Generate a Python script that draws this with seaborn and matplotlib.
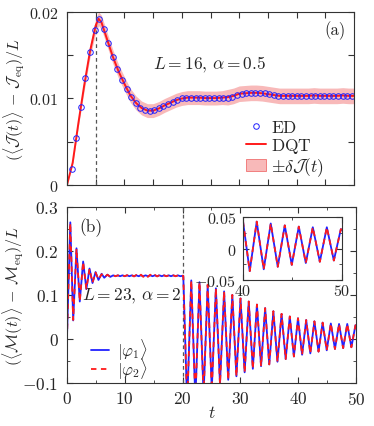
import seaborn as sns
import matplotlib.pyplot as plt
from matplotlib.lines import Line2D
from matplotlib.patches import Patch

# panel (a): DQT curve, its error band and the ED points
dqt_t = [0, 1, 2, 3, 4, 5, 5.5, 6, 7, 8, 9, 10, 11, 12, 13, 14, 15, 16, 17, 18, 19, 20,
         21, 22, 23, 24, 25, 26, 27, 28, 29, 30, 31, 32, 33, 34, 35, 36, 37, 38, 39, 40,
         41, 42, 43, 44, 45, 46, 47, 48, 49, 50]
dqt_val = [0.0, 0.0026, 0.0072, 0.0115, 0.0154, 0.0184, 0.0192, 0.0188, 0.0168, 0.0148,
           0.0131, 0.0117, 0.0104, 0.0095, 0.0089, 0.0086, 0.0086, 0.00885, 0.0092, 0.0095,
           0.0098, 0.0100, 0.0101, 0.0101, 0.0101, 0.01005, 0.01005, 0.01005, 0.0101, 0.01015,
           0.0103, 0.01055, 0.0106, 0.01065, 0.01065, 0.0106, 0.0105, 0.0104, 0.0103, 0.0103,
           0.0103, 0.0103, 0.0103, 0.0103, 0.01035, 0.0103, 0.0103, 0.0103, 0.0103, 0.01035,
           0.0103, 0.0103]
dqt_err = [0.0, 0.0002, 0.0004, 0.0006, 0.0007, 0.0008, 0.0008, 0.0008, 0.0008, 0.0008,
           0.0008, 0.0008, 0.0008, 0.0008, 0.0008, 0.0008, 0.0008, 0.0008, 0.0008, 0.0008,
           0.0008, 0.0008, 0.0008, 0.0008, 0.0008, 0.0008, 0.0008, 0.0008, 0.0008, 0.0009,
           0.0009, 0.0009, 0.0009, 0.0009, 0.0009, 0.0009, 0.0009, 0.0009, 0.0009, 0.0009,
           0.0009, 0.0009, 0.0009, 0.0009, 0.0009, 0.0009, 0.0009, 0.0009, 0.0009, 0.0009,
           0.0009, 0.0009]

ed_t = [0.8, 1.6, 2.4, 3.2, 4.0, 4.8, 5.6, 6.4, 7.2, 8.0, 8.8, 9.6, 10.4, 11.2, 12.0, 12.8,
        13.6, 14.4, 15.2, 16.0, 16.8, 17.6, 18.4, 19.2, 20.0, 20.8, 21.6, 22.4, 23.2, 24.0,
        24.8, 25.6, 26.4, 27.2, 28.0, 28.8, 29.6, 30.4, 31.2, 32.0, 32.8, 33.6, 34.4, 35.2,
        36.0, 36.8, 37.6, 38.4, 39.2, 40.0, 40.8, 41.6, 42.4, 43.2, 44.0, 44.8, 45.6, 46.4,
        47.2, 48.0, 48.8, 49.6]
ed_val = [0.00185, 0.00546, 0.00904, 0.01238, 0.01538, 0.01792, 0.01915, 0.01807, 0.01638,
          0.01481, 0.01342, 0.01219, 0.01115, 0.01015, 0.00946, 0.00896, 0.00869, 0.00858,
          0.00862, 0.00885, 0.00915, 0.00942, 0.00965, 0.00988, 0.01003, 0.01007, 0.0101,
          0.0101, 0.0101, 0.0100, 0.0100, 0.0100, 0.0100, 0.0101, 0.0101, 0.0102, 0.0104,
          0.0105, 0.0106, 0.0106, 0.01065, 0.0106, 0.0106, 0.0105, 0.0104, 0.0103, 0.0103,
          0.0103, 0.0103, 0.0103, 0.0103, 0.0103, 0.0103, 0.0103, 0.0103, 0.0103, 0.0103,
          0.0103, 0.0103, 0.0103, 0.0103, 0.0103]

# panel (b): magnetisation for the two initial states
mag_t = [0.0, 0.58, 1.08, 1.65, 2.22, 2.8, 3.36, 3.9, 4.42, 4.95, 5.45, 6.0, 6.45, 7.0, 7.5,
         8.0, 8.4, 8.8, 9.2, 9.6, 10.0, 10.4, 10.8, 11.2, 11.6, 12.0, 12.4, 12.8, 13.2, 13.6,
         14.0, 14.4, 14.8, 15.2, 15.6, 16.0, 16.4, 16.8, 17.2, 17.6, 18.0, 18.4, 18.8, 19.2,
         19.6, 20.0, 20.12,
         20.79, 21.50, 22.21, 22.92, 23.63, 24.34, 25.05, 25.76, 26.47, 27.18, 27.89, 28.60,
         29.31, 30.02, 30.73, 31.44, 32.15, 32.86, 33.57, 34.28, 34.99, 35.70, 36.41, 37.12,
         37.83, 38.54, 39.25, 39.96, 40.67, 41.38, 42.09, 42.80, 43.51, 44.22, 44.93, 45.64,
         46.35, 47.06, 47.77, 48.48, 49.19, 49.90, 50.0]
mag_phi1 = [0.0, 0.265, 0.042, 0.206, 0.085, 0.176, 0.113, 0.160, 0.127, 0.152, 0.134, 0.148,
            0.139, 0.146, 0.141,
            0.1445, 0.1425, 0.1445, 0.1425, 0.1445, 0.1425, 0.1445, 0.1425, 0.1445, 0.1425,
            0.1445, 0.1425, 0.1445, 0.1425, 0.1445, 0.1425, 0.1445, 0.1425, 0.1445, 0.1425,
            0.1445, 0.1425, 0.1445, 0.1425, 0.1445, 0.1425, 0.1445, 0.1425, 0.1445, 0.1425,
            0.1435, 0.1435,
            -0.150, 0.133, -0.140, 0.129, -0.128, 0.123, -0.115, 0.115, -0.103, 0.108, -0.093,
            0.100, -0.085, 0.092, -0.076, 0.085, -0.068, 0.078, -0.062, 0.070, -0.058, 0.063,
            -0.052, 0.057, -0.046, 0.051, -0.040, 0.047, -0.036, 0.043, -0.033, 0.040, -0.029,
            0.037, -0.026, 0.035, -0.023, 0.034, -0.021, 0.034, -0.019, 0.031, 0.030]
mag_phi2 = [0.0, 0.263, 0.043, 0.205, 0.086, 0.175, 0.114, 0.159, 0.128, 0.151, 0.135, 0.147,
            0.140, 0.146, 0.141,
            0.1445, 0.1425, 0.1445, 0.1425, 0.1445, 0.1425, 0.1450, 0.1420, 0.1450, 0.1420,
            0.1455, 0.1415, 0.1460, 0.1410, 0.1460, 0.1410, 0.1460, 0.1415, 0.1455, 0.1420,
            0.1450, 0.1425, 0.1445, 0.1425, 0.1445, 0.1425, 0.1445, 0.1425, 0.1445, 0.1425,
            0.1435, 0.1435,
            -0.150, 0.133, -0.140, 0.129, -0.128, 0.123, -0.115, 0.115, -0.103, 0.108, -0.093,
            0.100, -0.085, 0.092, -0.076, 0.085, -0.068, 0.078, -0.062, 0.070, -0.058, 0.063,
            -0.052, 0.057, -0.046, 0.051, -0.040, 0.047, -0.036, 0.043, -0.033, 0.040, -0.029,
            0.037, -0.026, 0.035, -0.023, 0.034, -0.021, 0.034, -0.019, 0.031, 0.030]

blue = '#2020ff'
red = '#ff1a1a'
band = '#f8b9b9'

sns.set_style('ticks')
plt.rcParams['font.family'] = 'serif'
plt.rcParams['font.serif'] = ['cmr10', 'DejaVu Serif']
plt.rcParams['mathtext.fontset'] = 'cm'
plt.rcParams['axes.unicode_minus'] = False
plt.rcParams['font.size'] = 11
plt.rcParams['axes.edgecolor'] = '#333333'
plt.rcParams['axes.linewidth'] = 0.8

fig = plt.figure(figsize=(3.74, 4.27), dpi=100)
ax1 = fig.add_axes([0.179, 0.564, 0.768, 0.406])
ax2 = fig.add_axes([0.179, 0.101, 0.773, 0.412])
ax3 = fig.add_axes([0.650, 0.342, 0.264, 0.147])

# ---- (a)
lo = [v - e for v, e in zip(dqt_val, dqt_err)]
hi = [v + e for v, e in zip(dqt_val, dqt_err)]
ax1.fill_between(dqt_t, lo, hi, color=band, lw=0)
ax1.axvline(5, color='#555555', lw=0.9, dashes=(3, 2.5))
sns.lineplot(x=dqt_t, y=dqt_val, ax=ax1, color=red, lw=1.4)
sns.lineplot(x=ed_t, y=ed_val, ax=ax1, marker='o', linestyle='none', markersize=4,
             markerfacecolor='none', markeredgecolor=blue, markeredgewidth=0.7)
ax1.set_xlim(0, 50)
ax1.set_ylim(0, 0.02)
ax1.set_xticks(range(0, 51, 5))
ax1.set_xticklabels([])
ax1.set_yticks([0, 0.005, 0.01, 0.015, 0.02], ['$0$', '', '$0.01$', '', '$0.02$'])
ax1.set_ylabel(r'$(\langle\mathcal{J}(t)\rangle\,-\,\mathcal{J}_{\rm eq})/L$', fontsize=11.5)
ax1.yaxis.set_label_coords(-0.14, 0.5)
ax1.text(0.934, 0.90, '(a)', transform=ax1.transAxes, ha='center', va='center', fontsize=12)
ax1.text(0.497, 0.70, r'$L=16,\,\alpha=0.5$', transform=ax1.transAxes, ha='center',
         va='center', fontsize=12.5)
h1 = [Line2D([], [], marker='o', ls='none', mfc='none', mec=blue, mew=0.7, ms=4),
      Line2D([], [], color=red, lw=1.4),
      Patch(facecolor=band, edgecolor='#f07070', lw=0.6)]
ax1.legend(h1, [r'$\mathrm{ED}$', r'$\mathrm{DQT}$', r'$\pm\delta\mathcal{J}(t)$'],
           loc='lower left', bbox_to_anchor=(0.57, -0.05), frameon=False, handlelength=1.15,
           labelspacing=0.05, handletextpad=0.25, fontsize=12.5)

# ---- (b)
ax2.axvline(20, color='#555555', lw=0.9, dashes=(3, 2.5))
sns.lineplot(x=mag_t, y=mag_phi1, ax=ax2, color=blue, lw=1.3)
sns.lineplot(x=mag_t, y=mag_phi2, ax=ax2, color=red, lw=1.3, linestyle=(0, (3, 2.5)))
ax2.set_xlim(0, 50)
ax2.set_ylim(-0.1, 0.3)
ax2.set_xticks(range(0, 51, 10), ['$%d$' % v for v in range(0, 51, 10)])
ax2.set_xticks(range(5, 51, 10), minor=True)
ax2.set_yticks([-0.1, 0, 0.1, 0.2, 0.3], ['$-0.1$', '$0$', '$0.1$', '$0.2$', '$0.3$'])
ax2.set_yticks([-0.05, 0.05, 0.15, 0.25], minor=True)
ax2.set_xlabel('$t$', fontsize=12.5, labelpad=-2)
ax2.set_ylabel(r'$(\langle\mathcal{M}(t)\rangle\,-\,\mathcal{M}_{\rm eq})/L$', fontsize=11.5)
ax2.yaxis.set_label_coords(-0.14, 0.5)
ax2.text(0.083, 0.89, '(b)', transform=ax2.transAxes, ha='center', va='center', fontsize=12.5)
ax2.text(0.224, 0.494, r'$L=23,\,\alpha=2$', transform=ax2.transAxes, ha='center',
         va='center', fontsize=12.5)
h2 = [Line2D([], [], color=blue, lw=1.3), Line2D([], [], color=red, lw=1.3, ls=(0, (3, 2.5)))]
ax2.legend(h2, [r'$|\varphi_1\rangle$', r'$|\varphi_2\rangle$'],
           loc='lower left', bbox_to_anchor=(0.03, -0.075), frameon=False, handlelength=1.1,
           labelspacing=-0.35, handletextpad=0.5, fontsize=12)

# ---- inset
sns.lineplot(x=mag_t, y=mag_phi1, ax=ax3, color=blue, lw=1.3)
sns.lineplot(x=mag_t, y=mag_phi2, ax=ax3, color=red, lw=1.3, linestyle=(0, (3, 2.5)))
ax3.set_xlim(40, 50)
ax3.set_ylim(-0.05, 0.05)
ax3.set_xticks([40, 50], ['$40$', '$50$'])
ax3.set_xticks([45], minor=True)
ax3.set_yticks([-0.05, 0, 0.05], ['$-0.05$', '$0$', '$0.05$'])
ax3.set_yticks([-0.025, 0.025], minor=True)

for ax in (ax1, ax2, ax3):
    ax.tick_params(which='both', direction='in', top=True, right=True, color='#333333')
    ax.tick_params(which='major', length=4)
    ax.tick_params(which='minor', length=2.5)
    ax.set_facecolor('none')
ax1.tick_params(axis='y', pad=6, labelsize=11.5)
ax2.tick_params(axis='both', labelsize=12.5)
ax2.tick_params(axis='y', pad=6)
ax2.tick_params(axis='x', pad=5)
ax3.tick_params(axis='both', labelsize=11.5)
ax3.tick_params(axis='x', pad=2)
ax3.tick_params(axis='y', pad=5)
ax3.set_facecolor('white')

fig.savefig('out.png', dpi=100)
